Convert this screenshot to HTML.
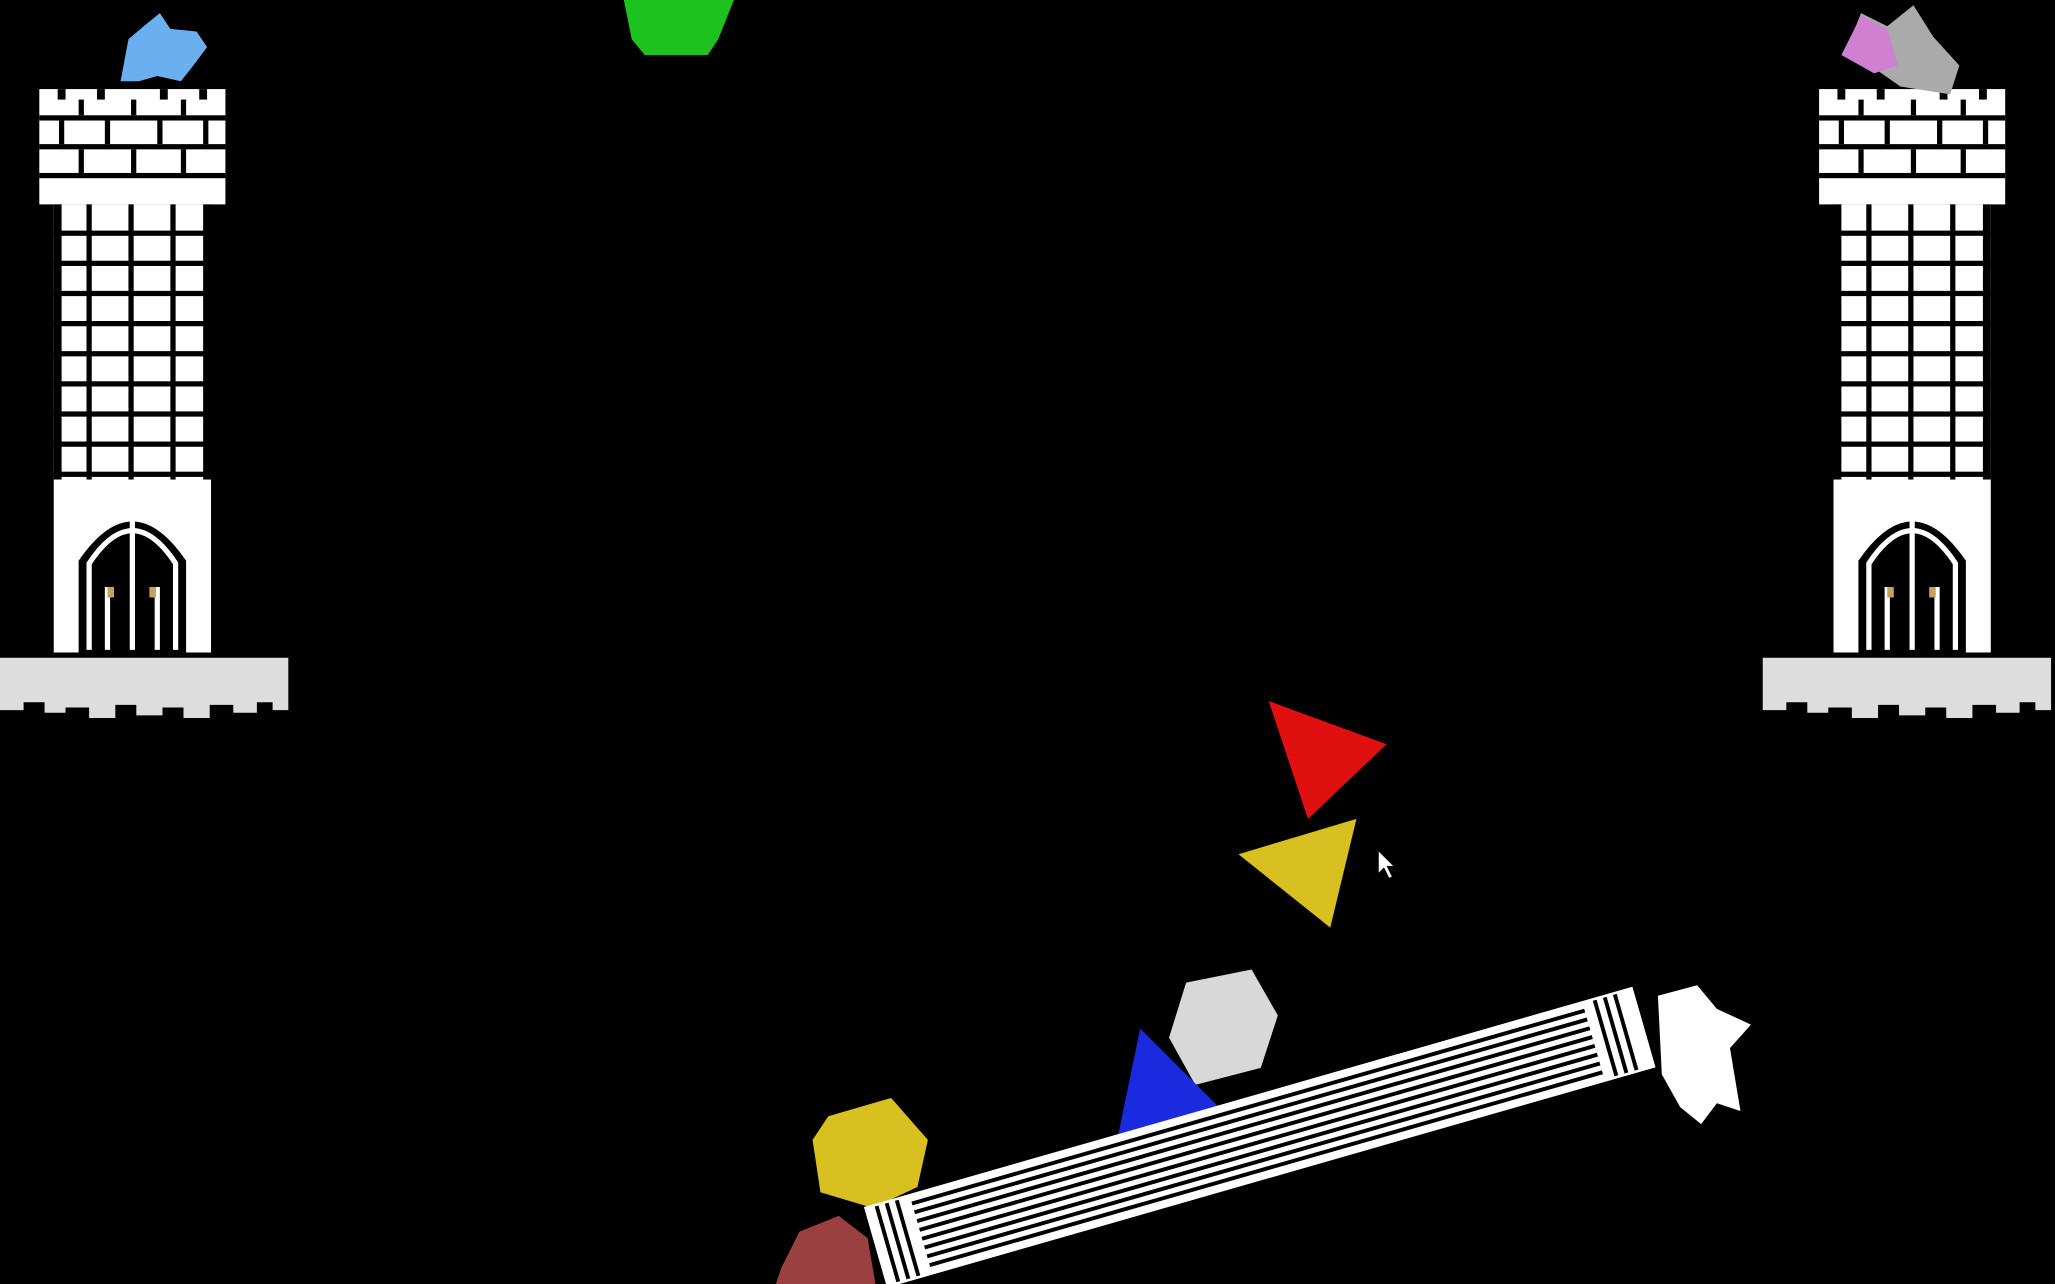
<!DOCTYPE html>
<html><head><meta charset="utf-8"><style>
html,body{margin:0;padding:0;background:#000;width:2055px;height:1284px;overflow:hidden}
svg{display:block}
</style></head><body>
<svg width="2055" height="1284" viewBox="0 0 1568 980" preserveAspectRatio="none" xmlns="http://www.w3.org/2000/svg">
<defs>
<g id="tower">
  <rect x="0" y="0" width="142" height="88" fill="#fff"/>
  <rect x="14" y="0" width="6" height="8" fill="#000"/>
  <rect x="44" y="0" width="6" height="8" fill="#000"/>
  <rect x="92" y="0" width="6" height="8" fill="#000"/>
  <rect x="122" y="0" width="6" height="8" fill="#000"/>
  <g fill="#000">
    <rect x="0" y="20" width="142" height="4"/><rect x="0" y="42" width="142" height="4"/><rect x="0" y="64" width="142" height="4"/>
    <rect x="30" y="8" width="4" height="12"/><rect x="70" y="8" width="4" height="12"/><rect x="108" y="8" width="4" height="12"/>
    <rect x="15" y="24" width="4" height="18"/><rect x="50" y="24" width="4" height="18"/><rect x="90" y="24" width="4" height="18"/><rect x="125" y="24" width="4" height="18"/>
    <rect x="30" y="46" width="4" height="18"/><rect x="70" y="46" width="4" height="18"/><rect x="108" y="46" width="4" height="18"/>
  </g>
  <rect x="11" y="88" width="120" height="342" fill="#fff"/>
  <g fill="#000">
    <rect x="11" y="108" width="120" height="4"/><rect x="11" y="131" width="120" height="4"/><rect x="11" y="154" width="120" height="4"/>
    <rect x="11" y="177" width="120" height="4"/><rect x="11" y="200" width="120" height="4"/><rect x="11" y="223" width="120" height="4"/>
    <rect x="11" y="246" width="120" height="4"/><rect x="11" y="269" width="120" height="4"/><rect x="11" y="292" width="120" height="4"/>
    <rect x="11" y="88" width="6" height="210"/><rect x="125" y="88" width="6" height="210"/>
    <rect x="36" y="88" width="4" height="210"/><rect x="68" y="88" width="4" height="210"/><rect x="100" y="88" width="4" height="210"/>
    <path d="M30 430 L30 360 Q71 300 112 360 L112 430 Z"/>
  </g>
  <g fill="none" stroke="#fff" stroke-width="4">
    <path d="M38 428 L38 362 Q71 312 104 362 L104 428"/>
    <path d="M71 320 L71 428"/><path d="M52 380 L52 428"/><path d="M90 380 L90 428"/>
  </g>
  <rect x="52" y="380" width="5" height="8" fill="#c9a060"/><rect x="84" y="380" width="5" height="8" fill="#c9a060"/>
</g>
<g id="plat">
  <path d="M0 0 H220 V40 H208 V34 H196 V42 H178 V36 H160 V46 H140 V38 H124 V44 H104 V36 H88 V46 H68 V38 H50 V42 H34 V34 H18 V40 H0 Z" fill="#ddd"/>
</g>
</defs>

<use href="#tower" x="30" y="68"/>
<use href="#plat" x="0" y="502"/>
<use href="#tower" x="1388" y="68"/>
<use href="#plat" x="1345" y="502"/>

<path d="M92 62 L98 30 L112 18 L122 10 L130 22 L150 24 L158 36 L146 52 L138 62 L120 58 L106 62 Z" fill="#6ab0f0"/>
<path d="M1408 40 L1420 10 L1440 20 L1460 4 L1475 28 L1495 50 L1488 72 L1450 66 L1430 52 Z" fill="#aaa"/>
<path d="M1405 42 L1420 12 L1440 22 L1448 50 L1430 56 Z" fill="#d080d0"/>

<path d="M476 0 H560 L548 30 L540 42 H492 L482 30 Z" fill="#1ec21e"/>

<polygon points="968,535 1058,568 998,625" fill="#e01010"/>
<polygon points="945,652 1035,625 1015,708" fill="#d8c020"/>
<polygon points="905,750 955,740 975,775 962,815 912,828 892,792" fill="#d8d8d8"/>
<polygon points="870,785 935,850 852,872" fill="#1a2adf"/>
<polygon points="632,852 680,838 708,870 700,906 666,922 626,910 620,870" fill="#d8c020"/>
<path d="M596 968 L610 940 L640 928 L662 945 L668 980 L592 980 Z" fill="#9a4040"/>

<g transform="translate(668,952) rotate(-16)">
  <rect x="0" y="-32" width="610" height="64" fill="#fff"/>
  <g fill="#000">
    <rect x="36" y="-26" width="534" height="3"/><rect x="36" y="-19" width="534" height="3"/>
    <rect x="36" y="-12" width="534" height="3"/><rect x="36" y="-5" width="534" height="3"/>
    <rect x="36" y="2" width="534" height="3"/><rect x="36" y="9" width="534" height="3"/>
    <rect x="36" y="16" width="534" height="3"/><rect x="36" y="23" width="534" height="3"/>
    <rect x="8" y="-30" width="3" height="60"/><rect x="16" y="-30" width="3" height="60"/><rect x="24" y="-30" width="3" height="60"/>
    <rect x="578" y="-30" width="3" height="60"/><rect x="586" y="-30" width="3" height="60"/><rect x="594" y="-30" width="3" height="60"/>
  </g>
</g>
<path d="M1265 760 L1295 752 L1310 770 L1336 782 L1320 800 L1328 848 L1310 842 L1298 858 L1282 845 L1268 820 Z" fill="#fff"/>
<polygon points="1052,650 1052,666 1056,662 1060,670 1062,669 1058,661 1063,661" fill="#fff"/>
</svg>
</body></html>
